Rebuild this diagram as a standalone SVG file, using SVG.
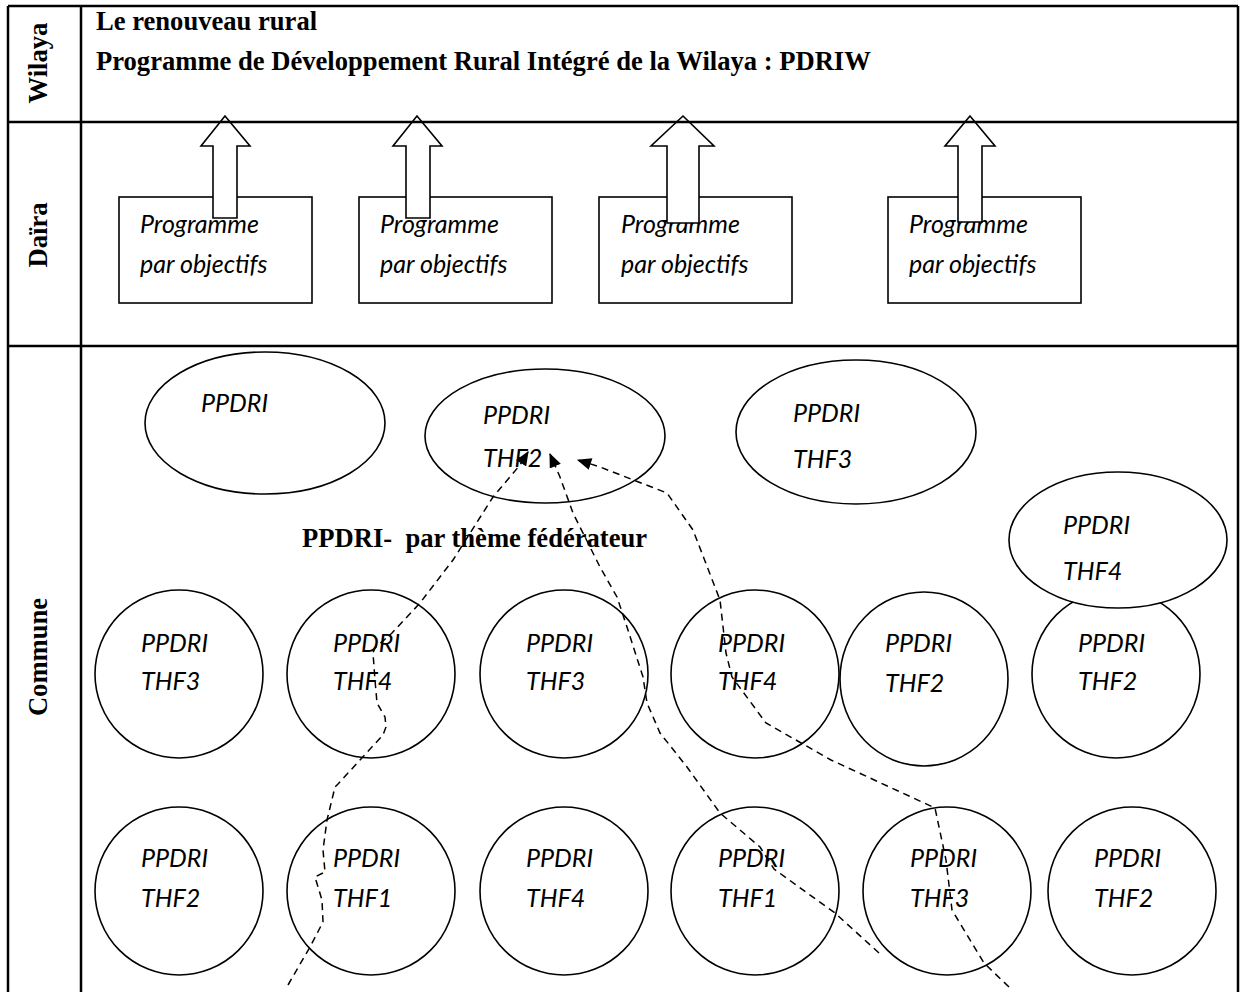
<svg xmlns="http://www.w3.org/2000/svg" width="1240" height="992" viewBox="0 0 1240 992">
<defs>
<style>
.grid{stroke:#000;stroke-width:2.5;fill:none}
.lbl{font-family:"Liberation Serif","Times New Roman",serif;font-weight:bold;font-size:26.6px;fill:#000}
.it{font-family:Lato,"Open Sans",sans-serif;font-style:italic;font-size:25px;fill:#000}
.shp{fill:#fff;stroke:#000;stroke-width:1.6}
.conn{fill:none;stroke:#000;stroke-width:1.5;stroke-dasharray:7 5}
</style>
<marker id="ah" viewBox="0 0 12 10" refX="11" refY="5" markerWidth="15" markerHeight="12" markerUnits="userSpaceOnUse" orient="auto">
<path d="M0,0 L12,5 L0,10 z" fill="#000"/>
</marker>
</defs>
<rect width="1240" height="992" fill="#fff"/>

<g id="labels">
<text class="lbl" transform="translate(47,63) rotate(-90)" text-anchor="middle">Wilaya</text>
<text class="lbl" transform="translate(47,235) rotate(-90)" text-anchor="middle">Daïra</text>
<text class="lbl" transform="translate(47,657) rotate(-90)" text-anchor="middle">Commune</text>
<text class="lbl" x="96" y="30">Le renouveau rural</text>
<text class="lbl" x="96" y="70">Programme de Développement Rural Intégré de la Wilaya : PDRIW</text>
<text class="lbl" x="302" y="547" xml:space="preserve">PPDRI-  par thème fédérateur</text>
</g>

<g id="prog1"><rect class="shp" x="119" y="197" width="193" height="106"/><text class="it" x="140" y="233">Programme</text><text class="it" x="140" y="273">par objectifs</text></g>
<g id="prog2"><rect class="shp" x="359" y="197" width="193" height="106"/><text class="it" x="380" y="233">Programme</text><text class="it" x="380" y="273">par objectifs</text></g>
<g id="prog3"><rect class="shp" x="599" y="197" width="193" height="106"/><text class="it" x="621" y="233">Programme</text><text class="it" x="621" y="273">par objectifs</text></g>
<g id="prog4"><rect class="shp" x="888" y="197" width="193" height="106"/><text class="it" x="909" y="233">Programme</text><text class="it" x="909" y="273">par objectifs</text></g>

<g id="uparrows">
<path class="shp" d="M225,116 L250,146 L237,146 L237,218 L213,218 L213,146 L201,146 Z"/>
<path class="shp" d="M417,116 L442,146 L430,146 L430,218 L406,218 L406,146 L393,146 Z"/>
<path class="shp" d="M683,116 L714,146 L699,146 L699,223 L667,223 L667,146 L651,146 Z"/>
<path class="shp" d="M970,116 L995,146 L982,146 L982,222 L958,222 L958,146 L945,146 Z"/>
</g>

<g id="table">
<line class="grid" x1="8" y1="6" x2="1238" y2="6"/>
<line class="grid" x1="8" y1="122" x2="1238" y2="122"/>
<line class="grid" x1="8" y1="346" x2="1238" y2="346"/>
<line class="grid" x1="8" y1="6" x2="8" y2="992"/>
<line class="grid" x1="81" y1="6" x2="81" y2="992"/>
<line class="grid" x1="1238" y1="6" x2="1238" y2="992"/>
</g>

<g id="e1"><ellipse class="shp" cx="265" cy="423" rx="120" ry="71"/><text class="it" x="201" y="412">PPDRI</text></g>
<g id="e2"><ellipse class="shp" cx="545" cy="436" rx="120" ry="67"/><text class="it" x="483" y="424">PPDRI</text><text class="it" x="483" y="467">THF2</text></g>
<g id="e3"><ellipse class="shp" cx="856" cy="432" rx="120" ry="72"/><text class="it" x="793" y="422">PPDRI</text><text class="it" x="793" y="468">THF3</text></g>

<g id="c1"><ellipse class="shp" cx="179" cy="674" rx="84" ry="84"/><text class="it" x="141" y="652">PPDRI</text><text class="it" x="141" y="690">THF3</text></g>
<g id="c2"><ellipse class="shp" cx="371" cy="674" rx="84" ry="84"/><text class="it" x="333" y="652">PPDRI</text><text class="it" x="333" y="690">THF4</text></g>
<g id="c3"><ellipse class="shp" cx="564" cy="674" rx="84" ry="84"/><text class="it" x="526" y="652">PPDRI</text><text class="it" x="526" y="690">THF3</text></g>
<g id="c4"><ellipse class="shp" cx="755" cy="674" rx="84" ry="84"/><text class="it" x="718" y="652">PPDRI</text><text class="it" x="718" y="690">THF4</text></g>
<g id="c5"><ellipse class="shp" cx="924" cy="679" rx="84" ry="87"/><text class="it" x="885" y="652">PPDRI</text><text class="it" x="885" y="692">THF2</text></g>
<g id="c6"><ellipse class="shp" cx="1116" cy="674" rx="84" ry="84"/><text class="it" x="1078" y="652">PPDRI</text><text class="it" x="1078" y="690">THF2</text></g>
<g id="e4"><ellipse class="shp" cx="1118" cy="540" rx="109" ry="68"/><text class="it" x="1063" y="534">PPDRI</text><text class="it" x="1063" y="580">THF4</text></g>

<g id="c7"><ellipse class="shp" cx="179" cy="891" rx="84" ry="84"/><text class="it" x="141" y="867">PPDRI</text><text class="it" x="141" y="907">THF2</text></g>
<g id="c8"><ellipse class="shp" cx="371" cy="891" rx="84" ry="84"/><text class="it" x="333" y="867">PPDRI</text><text class="it" x="333" y="907">THF1</text></g>
<g id="c9"><ellipse class="shp" cx="564" cy="891" rx="84" ry="84"/><text class="it" x="526" y="867">PPDRI</text><text class="it" x="526" y="907">THF4</text></g>
<g id="c10"><ellipse class="shp" cx="755" cy="891" rx="84" ry="84"/><text class="it" x="718" y="867">PPDRI</text><text class="it" x="718" y="907">THF1</text></g>
<g id="c11"><ellipse class="shp" cx="947" cy="891" rx="84" ry="84"/><text class="it" x="910" y="867">PPDRI</text><text class="it" x="910" y="907">THF3</text></g>
<g id="c12"><ellipse class="shp" cx="1132" cy="891" rx="84" ry="84"/><text class="it" x="1094" y="867">PPDRI</text><text class="it" x="1094" y="907">THF2</text></g>

<g id="connectors">
<path class="conn" marker-end="url(#ah)" d="M288,985 L310,947 L323,922 L322,900 L315,877 L325,872 L323,850 L327,820 L335,787 L338,784 L360,760 L383,735 L386,727 L385,717 L377,703 L375,680 L373,653 L375,648 L392,633 L420,603 L453,560 L493,497 L520,465 L528,452"/>
<path class="conn" marker-end="url(#ah)" d="M879,953 L835,913 L774,869 L760,847 L720,813 L687,767 L660,733 L647,703 L643,677 L627,627 L617,597 L600,567 L573,513 L560,477 L550,454"/>
<path class="conn" marker-end="url(#ah)" d="M1009,987 L984,963 L952,910 L946,860 L935,808 L831,760 L766,723 L732,677 L726,653 L720,600 L693,530 L667,493 L600,467 L578,460"/>
</g>
</svg>
